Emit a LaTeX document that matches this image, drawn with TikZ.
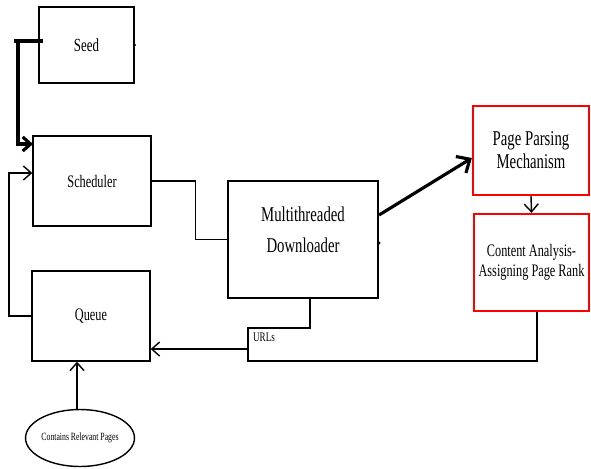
\documentclass[tikz,border=0pt]{standalone}
\usepackage{fontspec}
\setmainfont[FakeStretch=0.7]{Liberation Serif}
\usepackage{tikz}
\usetikzlibrary{shapes.geometric,arrows.meta}

\begin{document}
\begin{tikzpicture}[x=0.02cm,y=-0.02cm,>={Straight Barb[length=4.5pt,width=8pt]},
  box/.style={draw,line width=0.8pt,inner sep=0pt},
  redbox/.style={draw=red,line width=1.3pt,inner sep=0pt,align=center},
  link/.style={line width=0.8pt},
  heavy/.style={line width=1.8pt}]
\useasboundingbox (0,0) rectangle (591,468);

\node[box,minimum width=1.9cm,minimum height=1.52cm,line width=0.6pt,font=\fontsize{10.5}{12}\selectfont] (seed) at (86.5,45) {Seed};

\node[box,minimum width=2.36cm,minimum height=1.8cm,font=\fontsize{10}{12}\selectfont] (sched) at (92,181) {Scheduler};
\node[box,minimum width=2.36cm,minimum height=1.8cm,font=\fontsize{10}{12}\selectfont] (queue) at (91,316) {Queue};

\node[box,minimum width=3cm,minimum height=2.34cm,line width=1.2pt,align=center,text depth=0.4cm,font=\fontsize{12}{18}\selectfont] (down) at (303,239.5)
  {Multithreaded\\ Downloader};

\node[redbox,minimum width=2.32cm,minimum height=1.78cm,font=\fontsize{12}{13}\selectfont] (parse) at (531,150.5)
  {Page Parsing\\ Mechanism};
\node[redbox,minimum width=2.3cm,minimum height=1.94cm,font=\fontsize{10}{11.3}\selectfont] (rank) at (531.5,262.5)
  {Content Analysis-\\ Assigning Page Rank};

\node[draw,ellipse,line width=0.8pt,minimum width=2.02cm,minimum height=1.14cm,inner sep=0pt,font=\fontsize{6.3}{7}\selectfont] (rel) at (80,438)
  {Contains Relevant Pages};

\node[font=\fontsize{7.4}{8}\selectfont] (urls) at (264,337) {URLs};

\coordinate (s1) at (18,41);
\coordinate (s2) at (14,41);
\coordinate (s3) at (43,41);
\coordinate (schin) at (33,144);
\coordinate (fb) at (9,173);
\coordinate (u1) at (248,328);
\coordinate (u2) at (248,361);
\coordinate (u3) at (248,349);

\draw[heavy] (s3) -- (s2);
\draw[heavy,->] (s1) |- (schin);
\draw[link,->] (queue.west) -| (fb) -- (fb -| sched.west);
\draw[link] (sched.east) -- ++(44,0) |- (down.west);
\draw[heavy,-{Straight Barb[length=6pt,width=11pt]}] ([yshift=0.49cm]down.east) -- ([yshift=-0.15cm]parse.west);
\draw[link,->] (parse.south) -- (rank.north);
\draw[link] ([xshift=0.14cm]down.south) |- (u1) -- (u2) -| ([xshift=0.11cm]rank.south);
\draw[link,->] (u3) -- (u3 -| queue.east);
\draw[link,->] ([xshift=-0.06cm]rel.north) -- ([xshift=-0.06cm]rel.north |- queue.south);

\fill (seed.east) circle (0.9pt);
\fill ([yshift=-0.07cm]down.east) circle (0.9pt);
\end{tikzpicture}
\end{document}
